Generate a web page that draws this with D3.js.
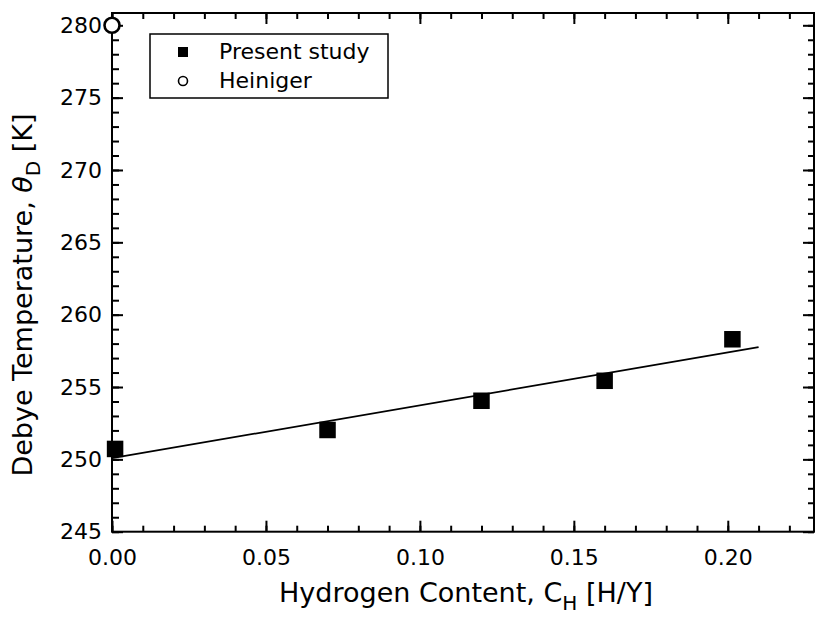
<!DOCTYPE html>
<html>
<head>
<meta charset="utf-8">
<script src="https://cdn.jsdelivr.net/npm/d3@7"></script>
<style>
  body { margin: 0; background: #fff; }
  svg { display: block; font-family: "DejaVu Sans", sans-serif; }
</style>
</head>
<body>
<script>
// ---- data ----
const presentX = [0.001, 0.070, 0.120, 0.160, 0.2015];
const presentY = [250.72, 252.03, 254.05, 255.43, 258.3];
const heinigerX = [0.0];
const heinigerY = [280.0];
const fitX = [0.0, 0.21];
const fitY = [250.08, 257.76];
const xTicks = [0.00, 0.05, 0.10, 0.15, 0.20];
const xTickLabels = ["0.00", "0.05", "0.10", "0.15", "0.20"];
const yTicks = [245, 250, 255, 260, 265, 270, 275, 280];
const yTickLabels = ["245", "250", "255", "260", "265", "270", "275", "280"];
const xMinor = d3.range(0, 23).map(i => i / 100);
const yMinor = d3.range(245, 281);
const legendLabels = ["Present study", "Heiniger"];

const W = 815, H = 624;
const L = 112, R = 814, T = 13, B = 531.7;

const svg = d3.select("body").append("svg").attr("width", W).attr("height", H);

const x = d3.scaleLinear().domain([0, 0.228]).range([L, R]);
const y = d3.scaleLinear().domain([245, 280.85]).range([B, T]);

// Frame
svg.append("rect").attr("x", L).attr("y", T).attr("width", R - L).attr("height", B - T)
  .attr("fill", "none").attr("stroke", "#000").attr("stroke-width", 2);

function styleAxis(g) {
  g.select(".domain").remove();
  g.selectAll(".tick line").attr("stroke", "#000").attr("stroke-width", 2);
  g.selectAll("text").attr("fill", "#000").style("font-family", "DejaVu Sans").style("font-size", "22px");
}

// Bottom axis
svg.append("g").attr("transform", `translate(0,${B})`)
  .call(d3.axisBottom(x).tickValues(xMinor).tickSize(-6).tickFormat(""))
  .call(styleAxis);
svg.append("g").attr("transform", `translate(0,${B})`)
  .call(d3.axisBottom(x).tickValues(xTicks).tickSize(-11).tickPadding(18)
    .tickFormat((d, i) => xTickLabels[i]))
  .call(styleAxis);

// Top axis
svg.append("g").attr("transform", `translate(0,${T})`)
  .call(d3.axisTop(x).tickValues(xMinor).tickSize(-6).tickFormat(""))
  .call(styleAxis);
svg.append("g").attr("transform", `translate(0,${T})`)
  .call(d3.axisTop(x).tickValues(xTicks).tickSize(-11).tickFormat(""))
  .call(styleAxis);

// Left axis
svg.append("g").attr("transform", `translate(${L},0)`)
  .call(d3.axisLeft(y).tickValues(yMinor).tickSize(-7).tickFormat(""))
  .call(styleAxis);
svg.append("g").attr("transform", `translate(${L},0)`)
  .call(d3.axisLeft(y).tickValues(yTicks).tickSize(-11).tickPadding(10)
    .tickFormat((d, i) => yTickLabels[i]))
  .call(styleAxis);

// Right axis
svg.append("g").attr("transform", `translate(${R},0)`)
  .call(d3.axisRight(y).tickValues(yMinor).tickSize(-6).tickFormat(""))
  .call(styleAxis);
svg.append("g").attr("transform", `translate(${R},0)`)
  .call(d3.axisRight(y).tickValues(yTicks).tickSize(-11).tickFormat(""))
  .call(styleAxis);

// Fit line
const line = d3.line().x(d => x(d[0])).y(d => y(d[1]));
svg.append("path").datum(fitX.map((v, i) => [v, fitY[i]]))
  .attr("d", line).attr("fill", "none").attr("stroke", "#000").attr("stroke-width", 1.8);

// Present study squares
const sq = 16.5;
svg.append("g").selectAll("rect").data(presentX.map((v, i) => [v, presentY[i]]))
  .join("rect")
  .attr("x", d => x(d[0]) - sq / 2).attr("y", d => y(d[1]) - sq / 2)
  .attr("width", sq).attr("height", sq).attr("fill", "#000");

// Heiniger circles
svg.append("g").selectAll("circle").data(heinigerX.map((v, i) => [v, heinigerY[i]]))
  .join("circle")
  .attr("cx", d => x(d[0])).attr("cy", d => y(d[1])).attr("r", 7.5)
  .attr("fill", "#fff").attr("stroke", "#000").attr("stroke-width", 2.6);

// Legend
const lg = svg.append("g");
lg.append("rect").attr("x", 150).attr("y", 34).attr("width", 238).attr("height", 64)
  .attr("fill", "#fff").attr("stroke", "#000").attr("stroke-width", 1.5);
lg.append("rect").attr("x", 178).attr("y", 47).attr("width", 10).attr("height", 10).attr("fill", "#000");
lg.append("circle").attr("cx", 183).attr("cy", 81).attr("r", 4.5)
  .attr("fill", "#fff").attr("stroke", "#000").attr("stroke-width", 1.6);
lg.selectAll("text").data(legendLabels).join("text")
  .attr("x", 219).attr("y", (d, i) => 59 + i * 29)
  .style("font-size", "22px").attr("fill", "#000").text(d => d);

// X title
const xt = svg.append("text").attr("x", 466).attr("y", 602).attr("text-anchor", "middle")
  .style("font-size", "27px").attr("fill", "#000");
xt.append("tspan").text("Hydrogen Content, C");
xt.append("tspan").attr("dy", 8).style("font-size", "20px").text("H");
xt.append("tspan").attr("dy", -8).text(" [H/Y]");

// Y title
const yt = svg.append("text").attr("transform", "translate(32,295) rotate(-90)")
  .attr("text-anchor", "middle").style("font-size", "27px").attr("fill", "#000");
yt.append("tspan").text("Debye Temperature, ");
yt.append("tspan").style("font-style", "italic").text("θ");
yt.append("tspan").attr("dy", 8).style("font-size", "20px").text("D");
yt.append("tspan").attr("dy", -8).text(" [K]");
</script>
</body>
</html>
